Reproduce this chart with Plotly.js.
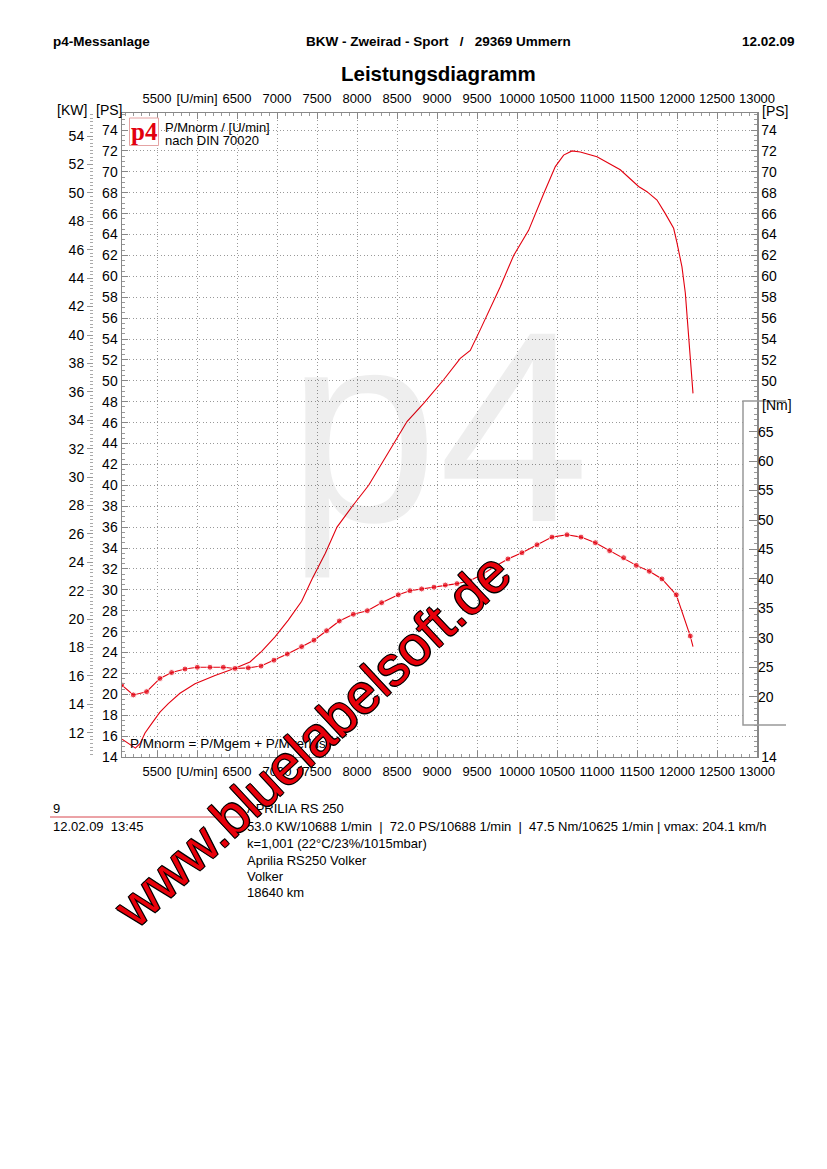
<!DOCTYPE html>
<html><head><meta charset="utf-8">
<script src="https://cdn.plot.ly/plotly-3.0.1.min.js"></script>
<style>html,body{margin:0;padding:0;background:#fff}</style>
</head><body><div id="chart" style="width:827px;height:1169px"></div>
<script>
// ---- data ----
const powerRpm = [5063,5140,5230,5290,5350,5433,5537,5641,5787,5975,6225,6475,6662,6808,6975,7141,7308,7437,7604,7750,7937,8146,8333,8500,8625,8833,9083,9291,9416,9541,9791,9958,10145,10333,10479,10583,10687,10791,11000,11291,11520,11625,11750,11854,11958,12000,12062,12104,12145,12200];
const powerPS  = [15.7,15.3,14.85,15.3,16.3,17.2,18.3,19.1,20.1,21.0,21.8,22.5,23.1,24.1,25.5,27.1,28.9,31.0,33.5,36.0,37.95,40.0,42.4,44.5,46.1,47.85,50.1,52.15,52.9,54.9,59.0,62.0,64.4,67.9,70.5,71.6,72.0,71.9,71.45,70.2,68.6,68.1,67.3,66.0,64.6,63.2,60.9,58.4,53.9,48.8];
const torqueRpm = [5058,5204,5370,5537,5683,5850,6004,6162,6329,6475,6641,6800,6962,7129,7308,7462,7620,7779,7954,8129,8308,8516,8662,8808,8962,9104,9250,9410,9570,9717,9887,10062,10250,10437,10625,10800,10979,11158,11333,11491,11654,11812,11991,12166,12200];
const torqueNm  = [22.0,20.3,20.85,23.1,24.1,24.7,25.0,25.0,25.0,24.8,24.9,25.2,26.2,27.25,28.5,29.6,31.2,32.85,34.0,34.6,35.96,37.3,38.0,38.3,38.6,38.96,39.2,39.7,40.8,42.07,43.4,44.45,45.8,47.1,47.5,47.1,46.15,44.8,43.6,42.3,41.3,40.0,37.3,30.3,28.5];
const torqueMarkerSize = torqueRpm.map((r,i)=> i===torqueRpm.length-1 ? 0 : 6);

const xTickVals = [5500,6000,6500,7000,7500,8000,8500,9000,9500,10000,10500,11000,11500,12000,12500,13000];
const xTickText = ['5500','[U/min]','6500','7000','7500','8000','8500','9000','9500','10000','10500','11000','11500','12000','12500','13000'];
const psTickVals = [14,16,18,20,22,24,26,28,30,32,34,36,38,40,42,44,46,48,50,52,54,56,58,60,62,64,66,68,70,72,74];
const psRightTickVals = [14,16,50,52,54,56,58,60,62,64,66,68,70,72,74];
const psRightTickText = ['14','','50','52','54','56','58','60','62','64','66','68','70','72','74'];
const kwTickVals = [12,14,16,18,20,22,24,26,28,30,32,34,36,38,40,42,44,46,48,50,52,54];
const nmTickVals = [20,25,30,35,40,45,50,55,60,65];

const headerLeft = 'p4-Messanlage';
const headerCenter = 'BKW - Zweirad - Sport   /   29369 Ummern';
const headerRight = '12.02.09';
const chartTitle = 'Leistungsdiagramm';
const infoLeft = ['9','12.02.09  13:45'];
const infoRight = ['APRILIA RS 250',
  '53.0 KW/10688 1/min  |  72.0 PS/10688 1/min  |  47.5 Nm/10625 1/min | vmax: 204.1 km/h',
  'k=1,001 (22°C/23%/1015mbar)',
  'Aprilia RS250 Volker',
  'Volker',
  '18640 km'];

// ---- geometry helpers (pixel -> paper) ----
const ML=122, MR=70, MT=113, MB=412, W=827, H=1169;
const PW=W-ML-MR, PH=H-MT-MB;
const X = px => (px-ML)/PW;
const Y = py => (H-MB-py)/PH;
const nb = s => s.replace(/ /g,'\u00a0');

const PS_RANGE=[14,75.63];
const KW=0.73549875;
const RED='#e3000f';
const AXC='#888';
const GRID='#999';
const GDASH='1px,2.5px';
const FONT='Liberation Sans, Arial, sans-serif';

function range(a,b,s){const r=[];for(let v=a;v<=b+1e-9;v+=s)r.push(+v.toFixed(2));return r;}

const traces = [
  {x:powerRpm, y:powerPS, xaxis:'x', yaxis:'y', mode:'lines', line:{color:RED,width:1.1}, hoverinfo:'skip'},
  {x:torqueRpm, y:torqueNm, xaxis:'x', yaxis:'y3', mode:'lines+markers', line:{color:RED,width:1.1},
   marker:{color:RED,size:torqueMarkerSize}, hoverinfo:'skip'},
  {x:powerRpm, y:powerPS, xaxis:'x2', yaxis:'y2', mode:'lines', opacity:0, hoverinfo:'skip'},
  {x:powerRpm, y:powerPS.map(v=>v*KW), xaxis:'x', yaxis:'y4', mode:'lines', opacity:0, hoverinfo:'skip'}
];

const xBase = {range:[5062.5,13000], tickmode:'array', tickvals:xTickVals, ticktext:xTickText,
  ticks:'inside', ticklen:6, tickcolor:AXC, showline:true, linecolor:AXC, linewidth:1,
  zeroline:false, tickfont:{size:13,family:FONT,color:'#000'}, fixedrange:true,
  minor:{tickmode:'linear', tick0:5000, dtick:100, ticks:'inside', ticklen:3, tickcolor:'#999', showgrid:false}};

const layout = {
  width:W, height:H, margin:{l:ML,r:MR,t:MT,b:MB,pad:0},
  paper_bgcolor:'#fff', plot_bgcolor:'rgba(0,0,0,0)', showlegend:false,
  font:{family:FONT,color:'#000'},
  xaxis: Object.assign({}, xBase, {side:'bottom', anchor:'y', showgrid:true, gridcolor:GRID, griddash:GDASH, gridwidth:1, ticklabelstandoff:2}),
  xaxis2: Object.assign({}, xBase, {side:'top', overlaying:'x', anchor:'y', showgrid:false, ticklabelstandoff:4}),
  yaxis: {range:PS_RANGE, tickmode:'array', tickvals:psTickVals, ticks:'inside', ticklen:6, tickcolor:AXC,
    showline:true, linecolor:AXC, linewidth:1.5, zeroline:false, side:'left', anchor:'x',
    showgrid:true, gridcolor:GRID, griddash:GDASH, gridwidth:1, tickfont:{size:14}, fixedrange:true,
    minor:{tickmode:'linear', tick0:14, dtick:0.5, ticks:'inside', ticklen:3, tickcolor:'#999', showgrid:false}},
  yaxis2: {range:PS_RANGE, overlaying:'y', side:'right', anchor:'x', tickmode:'array', tickvals:psRightTickVals,
    ticktext:psRightTickText, ticks:'inside', ticklen:6, tickcolor:AXC, showline:true, linecolor:AXC, linewidth:1.5,
    zeroline:false, showgrid:false, tickfont:{size:14}, fixedrange:true,
    minor:{tickmode:'array', tickvals:range(14,17,0.5).concat(range(48.5,75.5,0.5)), ticks:'inside', ticklen:3, tickcolor:'#999', showgrid:false}},
  yaxis3: {range:[9.76,119.12], overlaying:'y', side:'right', anchor:'x', tickmode:'array', tickvals:nmTickVals,
    ticks:'inside', ticklen:8, tickcolor:AXC, showline:false, zeroline:false, showgrid:false, tickfont:{size:14}, fixedrange:true,
    minor:{tickmode:'array', tickvals:range(16,69,1), ticks:'inside', ticklen:3, tickcolor:'#999', showgrid:false}},
  yaxis4: {range:[PS_RANGE[0]*KW, PS_RANGE[1]*KW], overlaying:'y', anchor:'free', position:0, shift:-29, side:'left',
    tickmode:'array', tickvals:kwTickVals, ticks:'outside', ticklen:6, tickcolor:'#999', showline:false,
    zeroline:false, showgrid:false, tickfont:{size:14}, fixedrange:true,
    minor:{tickmode:'linear', tick0:0, dtick:0.25, ticks:'outside', ticklen:3, tickcolor:'#aaa', showgrid:false}},
  shapes: [
    {type:'rect', xref:'x', yref:'y', x0:12825, x1:13000, y0:17.06, y1:48.07, fillcolor:'#fff', line:{width:0}, layer:'between'},
    {type:'path', xref:'paper', yref:'paper', layer:'above', line:{color:'#999',width:1.5},
     path:`M${X(786)},${Y(401)} L${X(743)},${Y(401)} L${X(743)},${Y(725)} L${X(786)},${Y(725)}`},
    {type:'rect', xref:'paper', yref:'paper', layer:'above', x0:X(129.5), x1:X(158.5), y0:Y(145.5), y1:Y(118),
     fillcolor:'#fff', line:{color:'#e4a3a3',width:1}},
    {type:'line', xref:'paper', yref:'paper', x0:X(50), x1:X(242), y0:Y(817), y1:Y(817), line:{color:'#d8474f',width:1}}
  ],
  annotations: []
};

function ann(text, px, py, opt){
  layout.annotations.push(Object.assign({text:text, x:X(px), y:Y(py), xref:'paper', yref:'paper', showarrow:false,
    xanchor:'left', yanchor:'middle', font:{size:13,family:FONT,color:'#000'}}, opt||{}));
}
ann('p4', 438, 428, {xanchor:'center', font:{size:272,family:FONT,color:'rgba(0,0,0,0.065)'}});
ann(headerLeft, 51, 42, {font:{size:13.5,family:FONT,color:'#000',weight:'bold'}});
ann(nb(headerCenter), 438.5, 42, {xanchor:'center', font:{size:13.5,family:FONT,color:'#000',weight:'bold'}});
ann(headerRight, 797, 42, {xanchor:'right', font:{size:13.5,family:FONT,color:'#000',weight:'bold'}});
ann(chartTitle, 438, 73, {xanchor:'center', font:{size:20.5,family:FONT,color:'#000',weight:'bold'}});
ann('[KW]', 72, 110, {xanchor:'center', font:{size:14,family:FONT,color:'#000'}});
ann('[PS]', 109, 110, {xanchor:'center', font:{size:14,family:FONT,color:'#000'}});
ann('[PS]', 760, 111, {font:{size:14,family:FONT,color:'#000'}});
ann('[Nm]', 760, 405, {font:{size:14,family:FONT,color:'#000'}});
ann('p4', 144, 132, {xanchor:'center', font:{size:25,family:'Liberation Serif, DejaVu Serif, serif',color:'#e3000f',weight:'bold'}});
ann('P/Mnorm / [U/min]', 163, 128);
ann('nach DIN 70020', 163, 141);
ann('P/Mnorm = P/Mgem + P/Mverlust', 128, 743, {font:{size:13.5,family:FONT,color:'#000'}});
const infoY = [808,826,843,860,876,892];
infoLeft.forEach((t,i)=>ann(nb(t), 51, infoY[i]));
infoRight.forEach((t,i)=>ann(nb(t), 245, infoY[i]));
ann('www.bluelabelsoft.de', 312, 740, {xanchor:'center', textangle:-43,
  font:{size:55,family:FONT,color:'#e8000a',
  shadow:'1px 1px 0 #000, -1px -1px 0 #000, 1px -1px 0 #000, -1px 1px 0 #000'}});

Plotly.newPlot('chart', traces, layout, {staticPlot:true, displayModeBar:false});
</script>
</body></html>
